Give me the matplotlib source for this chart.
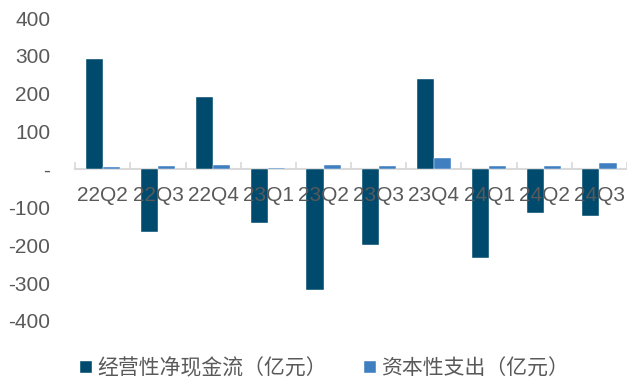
import numpy as np
import matplotlib
matplotlib.use("Agg")
import matplotlib.pyplot as plt

plt.rcParams['font.family'] = ['Liberation Sans', 'Noto Sans CJK SC']
plt.rcParams['axes.unicode_minus'] = False

# 季度经营性现金流与资本开支（亿元）
quarters = ['22Q2', '22Q3', '22Q4', '23Q1', '23Q2', '23Q3', '23Q4', '24Q1', '24Q2', '24Q3']
op_cash = [292, -165, 191, -142, -317, -200, 238, -233, -115, -123]
capex = [6, 8, 11, 5, 12, 10, 30, 10, 9, 18]
yticks = [-400, -300, -200, -100, 0, 100, 200, 300, 400]

dark = '#004a6e'
light = '#3f7fc0'
grey = '#595959'

fig = plt.figure(figsize=[6.27, 3.83], dpi=100)
ax = fig.add_axes([0.12, 0.162, 0.88, 0.791])

x = np.arange(len(quarters))
w = 0.31
ax.bar(x - w / 2, op_cash, w, color=dark, edgecolor='white', linewidth=0.3,
       label='经营性净现金流（亿元）', zorder=3)
ax.bar(x + w / 2, capex, w, color=light, edgecolor='white', linewidth=0.3,
       label='资本性支出（亿元）', zorder=3)

ax.set_xlim(-0.5, len(quarters) - 0.5)
ax.set_ylim(-400, 400)

for s in ['top', 'right', 'left']:
    ax.spines[s].set_visible(False)
ax.spines['bottom'].set_position(('data', 0))
ax.spines['bottom'].set_color('#d9d9d9')
ax.spines['bottom'].set_linewidth(1.5)
ax.spines['bottom'].set_zorder(1)

# 分类边界刻度（朝上）+ 居中标签，标签压在柱子上方
ax.set_xticks(np.arange(len(quarters) + 1) - 0.5)
ax.set_xticklabels([])
ax.tick_params(axis='x', which='major', direction='in', length=5, color='#d9d9d9', width=1.2)
ax.set_xticks(x, minor=True)
ax.set_xticklabels(quarters, minor=True)
ax.tick_params(axis='x', which='minor', length=0, pad=12, labelsize=15, labelcolor=grey)
ax.xaxis.set_zorder(5)

ax.set_yticks(yticks)
ax.set_yticklabels([str(v) if v != 0 else '-' for v in yticks])
ax.tick_params(axis='y', length=0, pad=18, labelsize=15, labelcolor=grey)

fig.legend(loc='center left', bbox_to_anchor=(0.128, 0.039), ncol=2, frameon=False,
           fontsize=15, labelcolor=grey, handlelength=0.55, handleheight=0.55,
           handletextpad=0.25, columnspacing=1.8, borderpad=0, borderaxespad=0)

plt.savefig('out.png', dpi=100)
